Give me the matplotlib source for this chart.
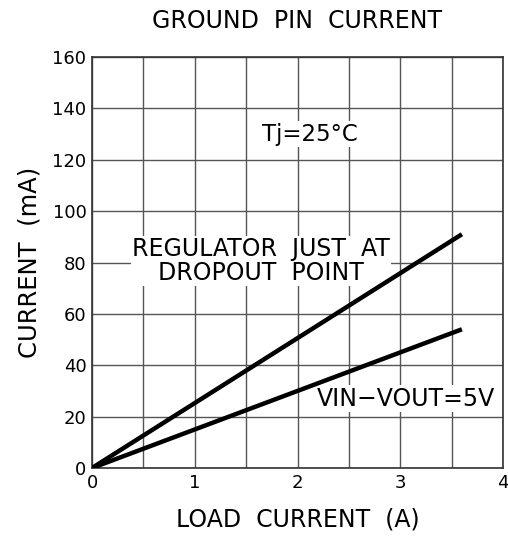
import matplotlib
matplotlib.use('Agg')
import matplotlib.pyplot as plt

# load current (A) vs ground pin current (mA)
x_dropout = [0, 3.6]
y_dropout = [0, 91]
x_5v = [0, 3.6]
y_5v = [0, 54]

xticks = [0, 0.5, 1, 1.5, 2, 2.5, 3, 3.5, 4]
xticklabels = ['0', '', '1', '', '2', '', '3', '', '4']
yticks = [0, 20, 40, 60, 80, 100, 120, 140, 160]

plt.rcParams['font.family'] = 'DejaVu Sans'

fig = plt.figure(figsize=(5.08, 5.40), dpi=100)
ax = fig.add_axes([92/508, 1-468/540, 411/508, 411/540])

ax.plot(x_dropout, y_dropout, color='black', lw=3.2, solid_capstyle='butt', zorder=3)
ax.plot(x_5v, y_5v, color='black', lw=3.2, solid_capstyle='butt', zorder=3)

ax.set_xlim(0, 4)
ax.set_ylim(0, 160)
ax.set_xticks(xticks)
ax.set_xticklabels(xticklabels)
ax.set_yticks(yticks)
ax.tick_params(length=0, labelsize=13, pad=4)
ax.grid(True, color='#555555', lw=1.0)
for s in ax.spines.values():
    s.set_color('#333333')
    s.set_linewidth(1.2)

box = dict(facecolor='white', edgecolor='none', pad=1)
ax.text(2.12, 130, 'Tj=25°C', fontsize=16.5, ha='center', va='center', bbox=box, zorder=2)
ax.text(1.645, 80.6, 'REGULATOR  JUST  AT\nDROPOUT  POINT', fontsize=17, ha='center',
        va='center', linespacing=1.0, bbox=box, zorder=2)
ax.text(3.056, 27, 'VIN\u2212VOUT=5V', fontsize=17, ha='center', va='center', bbox=box, zorder=2)

fig.text((92+503)/2/508, 1-520/540, 'LOAD  CURRENT  (A)', fontsize=17, ha='center', va='center')
fig.text(30/508, 1-262/540, 'CURRENT  (mA)', fontsize=17.5, ha='center', va='center', rotation=90)
fig.text((92+503)/2/508, 1-21.5/540, 'GROUND  PIN  CURRENT', fontsize=17, ha='center', va='center')

fig.savefig('out.png', dpi=100)
